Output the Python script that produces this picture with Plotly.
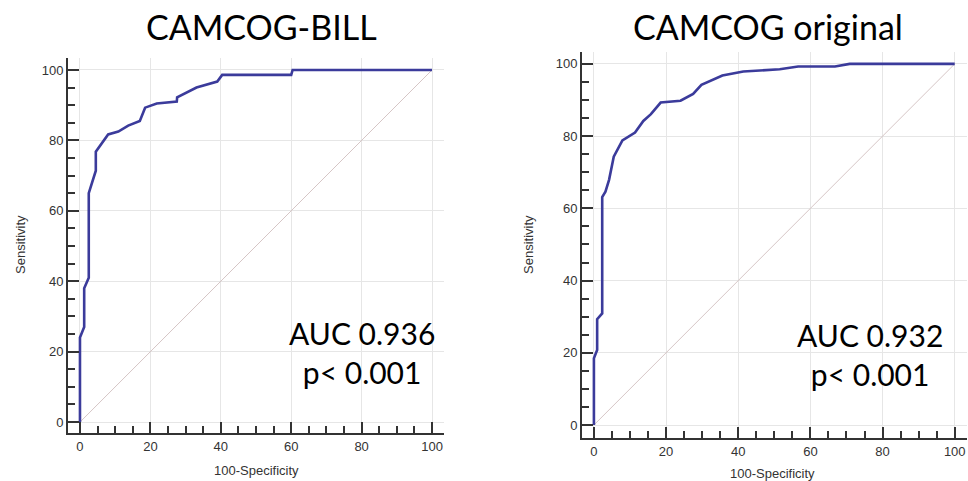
import plotly.graph_objects as go

# ---- data ----
bill_fpr = [0, 0, 1.2, 1.2, 2.5, 2.5, 4.5, 4.5, 8.0, 10.9, 13.7, 17.0, 18.5, 21.8, 27.5, 27.6, 33.1, 39.0, 40.4, 60.0, 60.4, 100]
bill_sens = [0, 24, 27, 38, 41, 65, 71.4, 76.8, 81.7, 82.5, 84.2, 85.5, 89.3, 90.5, 91.0, 92.2, 95.0, 96.7, 98.6, 98.6, 100, 100]

orig_fpr = [0, 0, 0.9, 0.9, 2.3, 2.3, 3.2, 4.2, 5.5, 7.9, 11.4, 13.7, 15.8, 18.5, 24.0, 27.5, 29.8, 35.6, 41.4, 51.5, 56.6, 66.8, 70.9, 100]
orig_sens = [0, 18.5, 20.8, 29.3, 30.9, 63.1, 64.6, 67.9, 74.3, 78.8, 81.0, 84.2, 86.1, 89.3, 89.8, 91.7, 94.2, 96.8, 97.9, 98.5, 99.3, 99.3, 100, 100]

diag = [0, 100]
titles = ["CAMCOG-BILL", "CAMCOG original"]
auc_texts = ["AUC 0.936<br>p< 0.001", "AUC 0.932<br>p< 0.001"]
x_title = "100-Specificity"
y_title = "Sensitivity"

W, H = 968, 481
curve_color = "#3b3b9b"
diag_color = "#d6c6c6"
axis_color = "#333333"
tick_font = dict(family="Liberation Sans, Arial, sans-serif", size=13, color="#333333")

fig = go.Figure()
fig.add_trace(go.Scatter(x=diag, y=diag, mode="lines", line=dict(color=diag_color, width=1),
                         xaxis="x", yaxis="y", hoverinfo="skip"))
fig.add_trace(go.Scatter(x=bill_fpr, y=bill_sens, mode="lines", line=dict(color=curve_color, width=2.6),
                         xaxis="x", yaxis="y"))
fig.add_trace(go.Scatter(x=diag, y=diag, mode="lines", line=dict(color=diag_color, width=1),
                         xaxis="x2", yaxis="y2", hoverinfo="skip"))
fig.add_trace(go.Scatter(x=orig_fpr, y=orig_sens, mode="lines", line=dict(color=curve_color, width=2.6),
                         xaxis="x2", yaxis="y2"))


def ax(domain, rng, anchor):
    return dict(
        domain=domain, range=rng, anchor=anchor,
        showline=True, linecolor=axis_color, linewidth=2,
        ticks="inside", ticklen=11, tickwidth=2, tickcolor=axis_color,
        tick0=0, dtick=20, showgrid=True, gridcolor="#e6e6e6", gridwidth=1,
        zeroline=False, tickfont=tick_font, fixedrange=True,
        minor=dict(ticks="inside", ticklen=7, tickwidth=1.5, tickcolor=axis_color,
                   dtick=5, tick0=0, showgrid=False),
    )


def px_x(p):
    return p / W


def px_y(p):
    return 1 - p / H


fig.update_layout(
    width=W, height=H,
    margin=dict(l=0, r=0, t=0, b=0),
    paper_bgcolor="white", plot_bgcolor="white",
    showlegend=False,
    xaxis=ax([px_x(68), px_x(444)], [-3.4, 103.4], "y"),
    yaxis=ax([px_y(433), px_y(58)], [-3.1, 103.4], "x"),
    xaxis2=ax([px_x(582), px_x(967)], [-3.3, 103.4], "y2"),
    yaxis2=ax([px_y(438), px_y(52)], [-3.6, 103.3], "x2"),
)

ann = []
# titles
for cx, cy, t in [(261, 26, titles[0]), (768, 26, titles[1])]:
    ann.append(dict(x=px_x(cx), y=px_y(cy), xref="paper", yref="paper", text=t, showarrow=False,
                    font=dict(family="Lato, Open Sans, sans-serif", size=34, color="black"),
                    xanchor="center", yanchor="middle"))
# AUC texts
for cx, cy, t in [(362, 352, auc_texts[0]), (870, 354, auc_texts[1])]:
    ann.append(dict(x=px_x(cx), y=px_y(cy), xref="paper", yref="paper", text=t, showarrow=False,
                    font=dict(family="Lato, Open Sans, sans-serif", size=30, color="black"),
                    xanchor="center", yanchor="middle", align="center"))
# axis titles
for cx, cy in [(256, 470), (772, 473)]:
    ann.append(dict(x=px_x(cx), y=px_y(cy), xref="paper", yref="paper", text=x_title, showarrow=False,
                    font=tick_font, xanchor="center", yanchor="middle"))
for cx, cy in [(20, 245), (528, 245)]:
    ann.append(dict(x=px_x(cx), y=px_y(cy), xref="paper", yref="paper", text=y_title, showarrow=False,
                    font=tick_font, xanchor="center", yanchor="middle", textangle=-90))
fig.update_layout(annotations=ann)

fig.write_html(
    "out.html",
    config={"displayModeBar": False},
    post_script="document.body.style.margin='0';document.body.style.overflow='hidden';",
)
